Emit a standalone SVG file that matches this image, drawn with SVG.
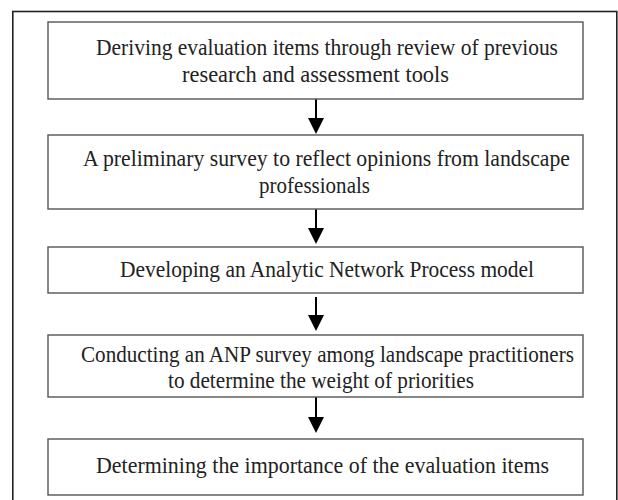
<svg xmlns="http://www.w3.org/2000/svg" width="618" height="500" viewBox="0 0 618 500">
  <style>
    .frame { fill: none; stroke: #222; stroke-width: 1.6; }
    .box { fill: #fff; stroke: #555; stroke-width: 1.4; }
    .lbl { font-family: "Liberation Serif", "Times New Roman", serif; font-size: 23px; fill: #222; }
    .conn { stroke: #000; stroke-width: 2; fill: none; }
  </style>
  <defs>
    <marker id="head" markerUnits="userSpaceOnUse" viewBox="0 0 16 16" refX="12" refY="8" markerWidth="16" markerHeight="16" orient="auto">
      <path d="M0,0 L16,8 L0,16 z" fill="#000"/>
    </marker>
  </defs>
  <rect class="frame" x="12.8" y="11.5" width="604" height="520"/>

  <g id="connectors">
    <line class="conn" x1="316" y1="99" x2="316" y2="130" marker-end="url(#head)"/>
    <line class="conn" x1="316" y1="209" x2="316" y2="240" marker-end="url(#head)"/>
    <line class="conn" x1="316" y1="297" x2="316" y2="327" marker-end="url(#head)"/>
    <line class="conn" x1="316" y1="397" x2="316" y2="429" marker-end="url(#head)"/>
  </g>

  <g id="n1">
    <rect class="box" x="48" y="22" width="535" height="77"/>
    <text class="lbl" x="96" y="55" textLength="462" lengthAdjust="spacingAndGlyphs">Deriving evaluation items through review of previous</text>
    <text class="lbl" x="182" y="82" textLength="267" lengthAdjust="spacingAndGlyphs">research and assessment tools</text>
  </g>
  <g id="n2">
    <rect class="box" x="48" y="135" width="535" height="74"/>
    <text class="lbl" x="83" y="166" textLength="487" lengthAdjust="spacingAndGlyphs">A preliminary survey to reflect opinions from landscape</text>
    <text class="lbl" x="259" y="193" textLength="111" lengthAdjust="spacingAndGlyphs">professionals</text>
  </g>
  <g id="n3">
    <rect class="box" x="48" y="247" width="535" height="46"/>
    <text class="lbl" x="120" y="277" textLength="414" lengthAdjust="spacingAndGlyphs">Developing an Analytic Network Process model</text>
  </g>
  <g id="n4">
    <rect class="box" x="48" y="335" width="535" height="62"/>
    <text class="lbl" x="81" y="362" textLength="493" lengthAdjust="spacingAndGlyphs">Conducting an ANP survey among landscape practitioners</text>
    <text class="lbl" x="168" y="388" textLength="306" lengthAdjust="spacingAndGlyphs">to determine the weight of priorities</text>
  </g>
  <g id="n5">
    <rect class="box" x="48" y="439" width="535" height="56"/>
    <text class="lbl" x="96" y="473" textLength="453" lengthAdjust="spacingAndGlyphs">Determining the importance of the evaluation items</text>
  </g>
</svg>
